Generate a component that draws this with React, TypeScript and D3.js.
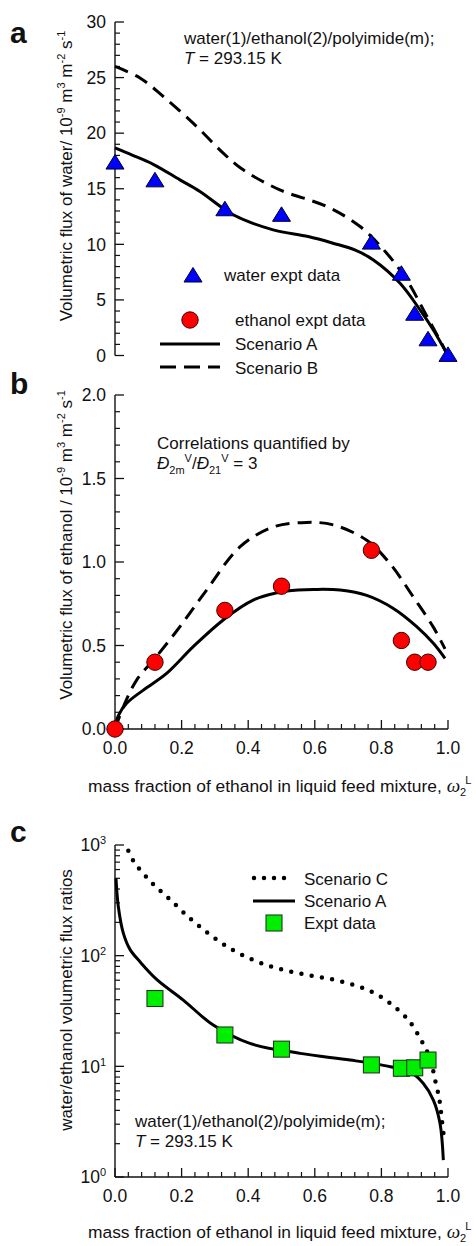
import React from "react";
import * as d3 from "d3";

const FONT = "'Liberation Sans', Arial, Helvetica, sans-serif";
const SERIF = "'Liberation Serif', 'Times New Roman', serif";

// ---------- data ----------
// panel a: water flux
const waterX = [0, 0.12, 0.33, 0.5, 0.77, 0.86, 0.9, 0.94, 1.0];
const waterFlux = [17.4, 15.8, 13.2, 12.7, 10.2, 7.4, 3.8, 1.5, 0.1];
const waterAX = [0, 0.05, 0.115, 0.195, 0.255, 0.355, 0.475, 0.58, 0.655, 0.72, 0.776, 0.856, 0.916, 0.956, 0.996];
const waterAY = [18.67, 18.05, 17.2, 15.8, 14.76, 12.66, 11.3, 10.7, 10.1, 9.5, 8.6, 6.5, 4.1, 2.3, 0.2];
const waterBX = [0, 0.075, 0.145, 0.245, 0.325, 0.385, 0.495, 0.636, 0.736, 0.816, 0.876, 0.93, 0.986, 1.0];
const waterBY = [26.0, 24.97, 23.3, 20.6, 18.2, 16.7, 14.9, 13.4, 11.6, 9.2, 6.8, 3.9, 0.8, 0.0];
const yTicksA = [0, 5, 10, 15, 20, 25, 30];

// panel b: ethanol flux
const ethanolX = [0, 0.12, 0.33, 0.5, 0.77, 0.86, 0.9, 0.94];
const ethanolFlux = [0.0, 0.4, 0.71, 0.855, 1.07, 0.53, 0.4, 0.4];
const ethAX = [0, 0.01, 0.035, 0.085, 0.155, 0.235, 0.325, 0.415, 0.516, 0.606, 0.676, 0.756, 0.836, 0.906, 0.956, 0.991];
const ethAY = [0.0, 0.08, 0.154, 0.233, 0.333, 0.493, 0.653, 0.772, 0.826, 0.836, 0.832, 0.8, 0.722, 0.613, 0.513, 0.423];
const ethBX = [0, 0.025, 0.065, 0.12, 0.195, 0.275, 0.375, 0.475, 0.576, 0.656, 0.756, 0.826, 0.896, 0.956, 0.991];
const ethBY = [0.0, 0.133, 0.293, 0.423, 0.613, 0.832, 1.09, 1.21, 1.237, 1.222, 1.13, 0.99, 0.79, 0.61, 0.48];
const yTicksB = [0, 0.5, 1.0, 1.5, 2.0];

// panel c: ratios
const ratioX = [0.12, 0.33, 0.5, 0.77, 0.86, 0.9, 0.94];
const ratioExpt = [41, 19.2, 14.3, 10.3, 9.6, 9.7, 11.4];
const ratioAX = [0.003, 0.01, 0.025, 0.045, 0.075, 0.125, 0.205, 0.295, 0.405, 0.556, 0.706, 0.806, 0.886, 0.926, 0.956, 0.976, 0.986];
const ratioAY = [500, 277, 160, 114, 88, 61, 39.7, 23.6, 16.1, 13.1, 11.4, 10.2, 8.9, 7.0, 4.96, 3.06, 1.42];
const ratioCX = [0.04, 0.057, 0.108, 0.167, 0.226, 0.285, 0.346, 0.406, 0.465, 0.526, 0.585, 0.644, 0.704, 0.763, 0.823, 0.881, 0.919, 0.946, 0.961, 0.974, 0.981, 0.988];
const ratioCY = [887, 705, 465, 318, 216, 155, 116, 94, 80.5, 72, 66.4, 61.8, 55.8, 48.5, 37.8, 26.2, 17.3, 11.8, 7.6, 5.03, 3.39, 2.24];
const yTicksC = [1, 10, 100, 1000];
const yTickExpC = ["0", "1", "2", "3"];

const xTicks = [0, 0.2, 0.4, 0.6, 0.8, 1.0];

// ---------- scales ----------
const x = d3.scaleLinear().domain([0, 1]).range([115, 448]);
const yA = d3.scaleLinear().domain([0, 30]).range([355.5, 22]);
const yB = d3.scaleLinear().domain([0, 2]).range([729, 395]);
const yC = d3.scaleLog().domain([1, 1000]).range([1177, 845]);

function linePath(xs: number[], ys: number[], ys_: any) {
  const gen = d3
    .line<number>()
    .x((_, i) => x(xs[i]))
    .y((_, i) => ys_(ys[i]))
    .curve(d3.curveCatmullRom.alpha(0.5));
  return gen(xs) || "";
}

const AX = "#111";

function YAxis({ scale, majors, minors, fmt }: any) {
  const [r0, r1] = scale.range();
  return (
    <g>
      <line x1={115} x2={115} y1={r0} y2={r1} stroke={AX} strokeWidth={1.4} />
      {minors.map((v: number, i: number) => (
        <line key={"m" + i} x1={115} x2={120} y1={scale(v)} y2={scale(v)} stroke={AX} strokeWidth={1.2} />
      ))}
      {majors.map((v: number, i: number) => (
        <g key={"M" + i}>
          <line x1={115} x2={124} y1={scale(v)} y2={scale(v)} stroke={AX} strokeWidth={1.3} />
          <text x={106} y={scale(v)} dy="0.36em" textAnchor="end" fontSize={17.5} fontFamily={FONT} fill="#111">
            {fmt(v, i)}
          </text>
        </g>
      ))}
    </g>
  );
}

function XAxis({ y0, labelY }: any) {
  const minors = d3.range(0, 1.0001, 0.04).filter((v) => Math.abs(v * 5 - Math.round(v * 5)) > 1e-6);
  return (
    <g>
      <line x1={115} x2={448} y1={y0} y2={y0} stroke={AX} strokeWidth={1.4} />
      {minors.map((v, i) => (
        <line key={"m" + i} x1={x(v)} x2={x(v)} y1={y0} y2={y0 - 5} stroke={AX} strokeWidth={1.2} />
      ))}
      {xTicks.map((v, i) => (
        <g key={"M" + i}>
          <line x1={x(v)} x2={x(v)} y1={y0} y2={y0 - 9} stroke={AX} strokeWidth={1.3} />
          <text x={x(v)} y={labelY} textAnchor="middle" fontSize={17.5} fontFamily={FONT} fill="#111">
            {v.toFixed(1)}
          </text>
        </g>
      ))}
    </g>
  );
}

function Tri({ cx, cy }: any) {
  return (
    <path
      d={`M${cx},${cy - 7.5} L${cx + 9},${cy + 7} L${cx - 9},${cy + 7} Z`}
      fill="#0000ff"
      stroke="#00002a"
      strokeWidth={1}
    />
  );
}
function Circ({ cx, cy }: any) {
  return <circle cx={cx} cy={cy} r={8.2} fill="#ff0000" stroke="#3a0000" strokeWidth={1} />;
}
function Sq({ cx, cy }: any) {
  return <rect x={cx - 8} y={cy - 8} width={16} height={16} fill="#00ee00" stroke="#1f3a1f" strokeWidth={1.1} />;
}

function YTitle({ cy, parts }: any) {
  return (
    <text transform="rotate(-90)" x={-cy} y={72} textAnchor="middle" fontSize={17} fontFamily={FONT} fill="#111">
      {parts}
    </text>
  );
}

function fluxUnits(prefix: string) {
  return (
    <>
      <tspan>{prefix}</tspan>
      <tspan dy={-7} fontSize={11}>-9</tspan>
      <tspan dy={7}> m</tspan>
      <tspan dy={-7} fontSize={11}>3</tspan>
      <tspan dy={7}> m</tspan>
      <tspan dy={-7} fontSize={11}>-2</tspan>
      <tspan dy={7}> s</tspan>
      <tspan dy={-7} fontSize={11}>-1</tspan>
    </>
  );
}

function XTitle({ y }: any) {
  return (
    <text x={88} y={y} fontSize={17.4} fontFamily={FONT} fill="#111">
      <tspan>mass fraction of ethanol in liquid feed mixture, </tspan>
      <tspan fontFamily={SERIF} fontStyle="italic" fontSize={19}>ω</tspan>
      <tspan dy={4} fontSize={11}>2</tspan>
      <tspan dy={-12} dx={-1} fontSize={11}>L</tspan>
    </text>
  );
}

function SystemText({ x0, y0 }: any) {
  return (
    <g fontSize={17} fontFamily={FONT} fill="#111">
      <text x={x0} y={y0}>water(1)/ethanol(2)/polyimide(m);</text>
      <text x={x0} y={y0 + 20}>
        <tspan fontStyle="italic">T</tspan>
        <tspan> = 293.15 K</tspan>
      </text>
    </g>
  );
}

export default function App() {
  const minorsA = d3.range(0, 31, 1).filter((v) => v % 5 !== 0);
  const minorsB = d3.range(0, 21, 1).filter((v) => v % 5 !== 0).map((v) => v / 10);
  const minorsC: number[] = [];
  [1, 10, 100].forEach((d) => {
    for (let k = 2; k <= 9; k++) minorsC.push(d * k);
  });

  return (
    <svg
      width={476}
      height={1246}
      style={{ position: "absolute", left: 0, top: 0, background: "#fff" }}
    >
      <rect x={0} y={0} width={476} height={1246} fill="#fff" />

      {/* panel labels */}
      <g fontFamily={FONT} fontWeight="bold" fontSize={30} fill="#111">
        <text x={10} y={43}>a</text>
        <text x={10} y={394}>b</text>
        <text x={10} y={842}>c</text>
      </g>

      {/* ---------- panel a ---------- */}
      <YAxis scale={yA} majors={yTicksA} minors={minorsA} fmt={(v: number) => String(v)} />
      <YTitle cy={176} parts={fluxUnits("Volumetric flux of water/ 10")} />
      <SystemText x0={184} y0={44} />
      <path d={linePath(waterBX, waterBY, yA)} fill="none" stroke="#000" strokeWidth={3} strokeDasharray="14 8" />
      <path d={linePath(waterAX, waterAY, yA)} fill="none" stroke="#000" strokeWidth={3} />
      {waterX.map((v, i) => (
        <Tri key={i} cx={x(v)} cy={yA(waterFlux[i])} />
      ))}
      {/* legend a */}
      <Tri cx={193} cy={275} />
      <Circ cx={190} cy={320} />
      <line x1={160} x2={220} y1={344} y2={344} stroke="#000" strokeWidth={3} />
      <line x1={160} x2={220} y1={367} y2={367} stroke="#000" strokeWidth={3} strokeDasharray="16 8" />
      <g fontSize={17} fontFamily={FONT} fill="#111">
        <text x={224} y={281}>water expt data</text>
        <text x={235} y={326}>ethanol expt data</text>
        <text x={235} y={350}>Scenario A</text>
        <text x={235} y={374}>Scenario B</text>
      </g>

      {/* ---------- panel b ---------- */}
      <YAxis scale={yB} majors={yTicksB} minors={minorsB} fmt={(v: number) => v.toFixed(1)} />
      <XAxis y0={729} labelY={754} />
      <YTitle cy={545} parts={fluxUnits("Volumetric flux of ethanol / 10")} />
      <XTitle y={792} />
      <g fontSize={17} fontFamily={FONT} fill="#111">
        <text x={157} y={449}>Correlations quantified by</text>
        <text x={157} y={469}>
          <tspan fontStyle="italic">Đ</tspan>
          <tspan dy={5} fontSize={11}>2m</tspan>
          <tspan dy={-12} fontSize={11}>V</tspan>
          <tspan dy={7}>/</tspan>
          <tspan fontStyle="italic">Đ</tspan>
          <tspan dy={5} fontSize={11}>21</tspan>
          <tspan dy={-12} fontSize={11}>V</tspan>
          <tspan dy={7}> = 3</tspan>
        </text>
      </g>
      <path d={linePath(ethBX, ethBY, yB)} fill="none" stroke="#000" strokeWidth={3} strokeDasharray="14 8" />
      <path d={linePath(ethAX, ethAY, yB)} fill="none" stroke="#000" strokeWidth={3} />
      {ethanolX.map((v, i) => (
        <Circ key={i} cx={x(v)} cy={yB(ethanolFlux[i])} />
      ))}

      {/* ---------- panel c ---------- */}
      <YAxis
        scale={yC}
        majors={yTicksC}
        minors={minorsC}
        fmt={(v: number, i: number) => (
          <>
            <tspan>10</tspan>
            <tspan dy={-7} fontSize={11}>{yTickExpC[i]}</tspan>
          </>
        )}
      />
      <XAxis y0={1177} labelY={1202} />
      <YTitle cy={1000} parts={<tspan>water/ethanol volumetric flux ratios</tspan>} />
      <XTitle y={1238} />
      <SystemText x0={135} y0={1127} />
      <path
        d={linePath(ratioCX, ratioCY, yC)}
        fill="none"
        stroke="#000"
        strokeWidth={4.5}
        strokeLinecap="round"
        strokeDasharray="0 10.4"
      />
      <path d={linePath(ratioAX, ratioAY, yC)} fill="none" stroke="#000" strokeWidth={3} />
      {ratioX.map((v, i) => (
        <Sq key={i} cx={x(v)} cy={yC(ratioExpt[i])} />
      ))}
      {/* legend c */}
      <line x1={254} x2={294} y1={878} y2={878} stroke="#000" strokeWidth={4.5} strokeLinecap="round" strokeDasharray="0 10" />
      <line x1={253} x2={295} y1={901} y2={901} stroke="#000" strokeWidth={3} />
      <Sq cx={274} cy={923} />
      <g fontSize={17} fontFamily={FONT} fill="#111">
        <text x={304} y={885}>Scenario C</text>
        <text x={304} y={907}>Scenario A</text>
        <text x={304} y={929}>Expt data</text>
      </g>
    </svg>
  );
}
